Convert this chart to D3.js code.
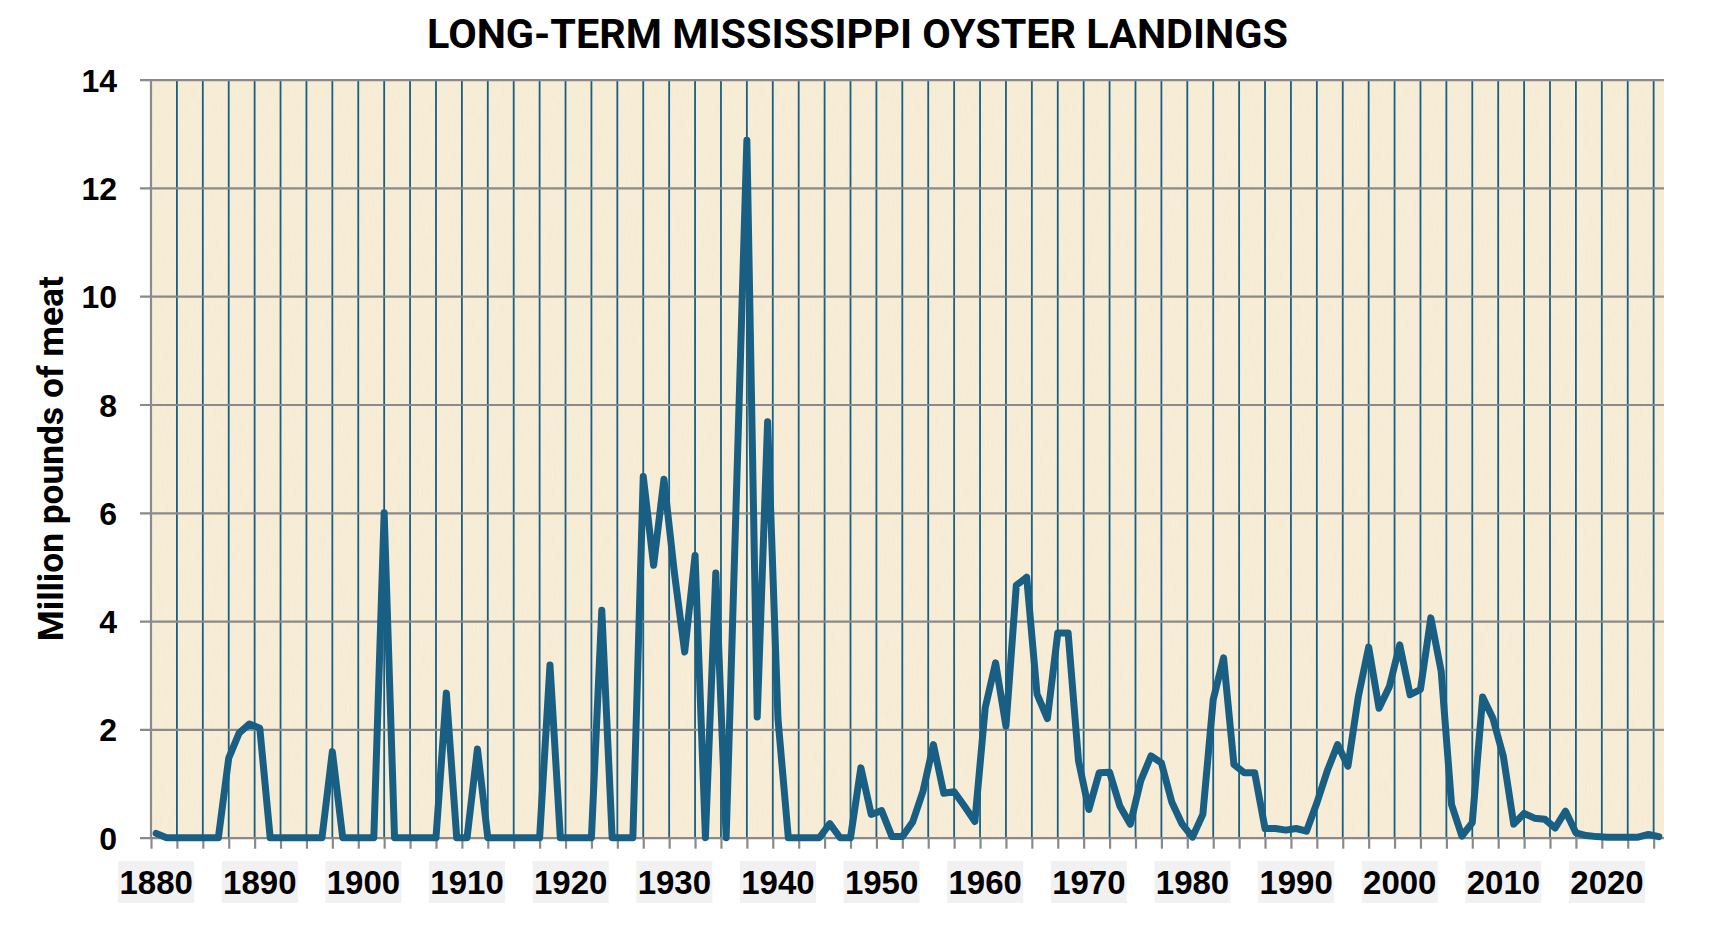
<!DOCTYPE html>
<html>
<head>
<meta charset="utf-8">
<script src="https://cdn.jsdelivr.net/npm/d3@7"></script>
<style>
  body { margin: 0; background: #fff; }
  text { font-family: Roboto, "Liberation Sans", Arial, sans-serif; font-weight: 700; fill: #000; }
</style>
</head>
<body>
<svg id="chart" width="1715" height="938"></svg>
<script>
// landings, million pounds of meat, one value per year from 1880
const startYear = 1880
const landings = [
  0.08, 0, 0, 0, 0, 0, 0, 1.47, 1.93, 2.1,          // 1880s
  2.02, 0, 0, 0, 0, 0, 0, 1.59, 0, 0,               // 1890s
  0, 0, 6.0, 0, 0, 0, 0, 0, 2.67, 0,                // 1900s
  0, 1.64, 0, 0, 0, 0, 0, 0, 3.19, 0,               // 1910s
  0, 0, 0, 4.2, 0, 0, 0, 6.67, 5.03, 6.62,          // 1920s
  4.9, 3.43, 5.21, 0, 4.89, 0, 6.4, 12.88, 2.23, 7.68, // 1930s
  2.2, 0, 0, 0, 0, 0.26, 0, 0, 1.29, 0.43,          // 1940s
  0.5, 0.02, 0.02, 0.29, 0.86, 1.72, 0.82, 0.85, 0.58, 0.3, // 1950s
  2.4, 3.23, 2.06, 4.66, 4.81, 2.65, 2.2, 3.78, 3.78, 1.42, // 1960s
  0.52, 1.2, 1.21, 0.58, 0.25, 1.05, 1.51, 1.38, 0.66, 0.25, // 1970s
  0.01, 0.43, 2.55, 3.32, 1.35, 1.2, 1.2, 0.17, 0.17, 0.14,  // 1980s
  0.17, 0.12, 0.64, 1.23, 1.72, 1.32, 2.6, 3.52, 2.39, 2.79, // 1990s
  3.56, 2.64, 2.74, 4.06, 3.07, 0.61, 0.03, 0.28, 2.6, 2.2,  // 2000s
  1.5, 0.25, 0.45, 0.36, 0.34, 0.18, 0.49, 0.09, 0.04, 0.02, // 2010s
  0.01, 0.01, 0.01, 0.01, 0.06, 0.02                // 2020s
]
const yTicks = [0, 2, 4, 6, 8, 10, 12, 14]
const yearLabels = [1880, 1890, 1900, 1910, 1920, 1930, 1940, 1950, 1960, 1970, 1980, 1990, 2000, 2010, 2020]
const gridYears = d3.range(1880, 2025.01, 2.5)

const title = 'LONG-TERM MISSISSIPPI OYSTER LANDINGS'
const yTitle = 'Million pounds of meat'

const plotLeft = 151, plotRight = 1664, plotTop = 79.6, plotBottom = 837.7
const lineColor = '#185f83'

const data = landings.map((v, i) => ({year: startYear + i, value: v}))

let svg = d3.select('#chart')

let x = d3.scaleLinear().domain([1880, 2026]).range([plotLeft, plotRight])
let y = d3.scaleLinear().domain([0, 14]).range([plotBottom, plotTop])

// parchment background
let defs = svg.append('defs')
let filter = defs.append('filter')
  .attr('id', 'paper')
  .attr('x', 0).attr('y', 0).attr('width', 1).attr('height', 1)
filter.append('feTurbulence')
  .attr('type', 'fractalNoise')
  .attr('baseFrequency', '0.9 0.06')
  .attr('numOctaves', 2)
  .attr('seed', 4)
  .attr('result', 'noise')
filter.append('feColorMatrix')
  .attr('in', 'noise')
  .attr('type', 'matrix')
  .attr('values', '0 0 0 0 0.6  0 0 0 0 0.5  0 0 0 0 0.3  0 0 0 0.12 -0.03')

svg.append('rect')
  .attr('x', plotLeft).attr('y', plotTop)
  .attr('width', plotRight - plotLeft).attr('height', plotBottom - plotTop)
  .attr('fill', '#f8eed8')
svg.append('rect')
  .attr('x', plotLeft).attr('y', plotTop)
  .attr('width', plotRight - plotLeft).attr('height', plotBottom - plotTop)
  .attr('filter', 'url(#paper)')

// vertical gridlines
svg.append('g')
  .selectAll('line')
  .data(gridYears)
  .enter().append('line')
    .attr('x1', d => x(d)).attr('x2', d => x(d))
    .attr('y1', plotTop).attr('y2', plotBottom)
    .style('stroke', lineColor)
    .style('stroke-width', 1.8)

// horizontal gridlines + y axis
let yAxis = svg.append('g')
  .attr('transform', 'translate(' + plotLeft + ',0)')
  .call(d3.axisLeft(y).tickValues(yTicks).tickSize(11).tickPadding(23).tickFormat(d3.format('d')))
yAxis.select('.domain').remove()
yAxis.selectAll('.tick line')
  .attr('x2', plotRight - plotLeft)
  .attr('x1', -11)
  .style('stroke', '#8a8a8a')
  .style('stroke-width', 2.2)
yAxis.selectAll('.tick text')
  .style('font-size', '32px')
  .style('font-family', '"Liberation Sans", Arial, sans-serif')
  .attr('dy', '0.36em')

// left axis line
svg.append('line')
  .attr('x1', plotLeft).attr('x2', plotLeft)
  .attr('y1', plotTop).attr('y2', plotBottom)
  .style('stroke', '#8a8a8a')
  .style('stroke-width', 2.2)

// bottom ticks
let xAxis = svg.append('g')
  .attr('transform', 'translate(0,' + plotBottom + ')')
  .call(d3.axisBottom(x).tickValues(gridYears).tickSize(11).tickFormat(''))
xAxis.select('.domain').remove()
xAxis.selectAll('.tick line')
  .style('stroke', '#8a8a8a')
  .style('stroke-width', 2.2)

// year labels in grey boxes
let labels = svg.append('g')
  .selectAll('g')
  .data(yearLabels)
  .enter().append('g')
    .attr('transform', d => 'translate(' + x(d + 0.5) + ',0)')
labels.append('rect')
  .attr('x', -38).attr('y', 861)
  .attr('width', 76).attr('height', 42)
  .attr('fill', '#f1f1f1')
labels.append('text')
  .attr('text-anchor', 'middle')
  .attr('y', 894)
  .style('font-size', '33px')
  .style('font-family', '"Liberation Sans", Arial, sans-serif')
  .text(d => d)

// the series
let line = d3.line()
  .x(d => x(d.year + 0.5))
  .y(d => y(d.value))

svg.append('path')
  .datum(data)
  .attr('d', line)
  .style('fill', 'none')
  .style('stroke', lineColor)
  .style('stroke-width', 7)
  .style('stroke-linejoin', 'round')
  .style('stroke-linecap', 'round')

// titles
function fit(sel, width) {
  let w = sel.node().getComputedTextLength()
  let size = parseFloat(sel.style('font-size'))
  sel.style('font-size', (size * width / w) + 'px')
}

let t = svg.append('text')
  .attr('x', 857.5).attr('y', 48)
  .attr('text-anchor', 'middle')
  .style('font-size', '38px')
  .text(title)
fit(t, 861)

let yt = svg.append('text')
  .attr('transform', 'translate(63,' + ((plotTop + plotBottom) / 2) + ') rotate(-90)')
  .attr('text-anchor', 'middle')
  .style('font-size', '32px')
  .text(yTitle)
fit(yt, 365)
</script>
</body>
</html>
